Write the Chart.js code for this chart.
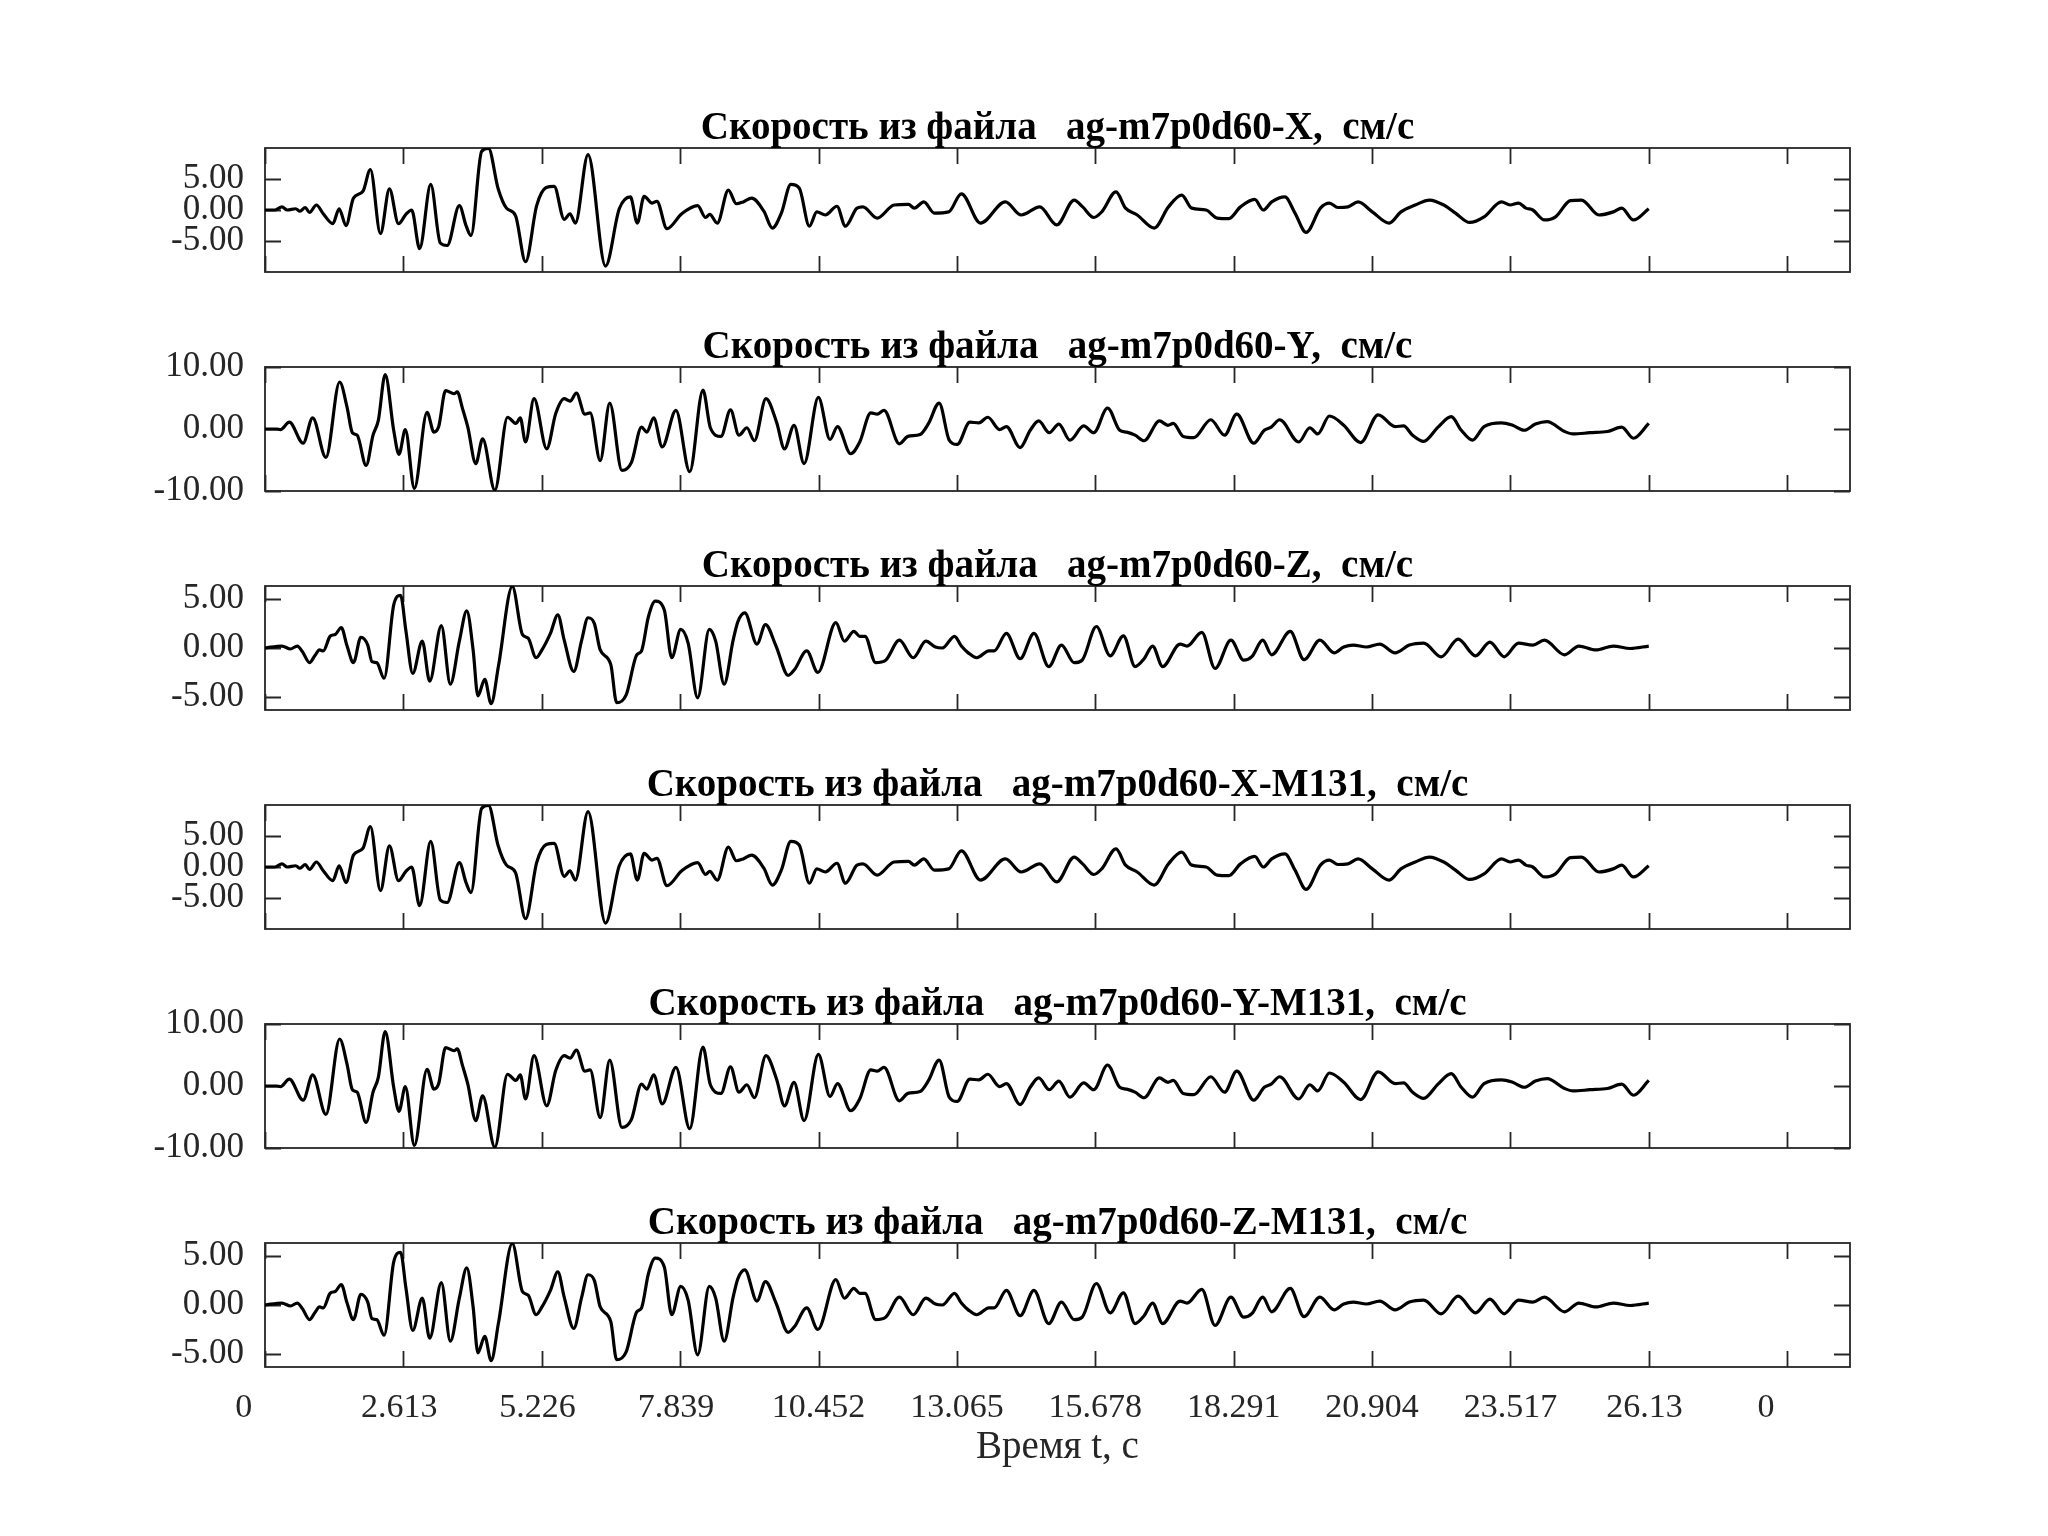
<!DOCTYPE html>
<html lang="ru">
<head>
<meta charset="utf-8">
<title>Скорость из файла</title>
<script src="https://cdn.jsdelivr.net/npm/chart.js@4.4.1/dist/chart.umd.min.js"></script>
<style>
  html, body { margin: 0; padding: 0; background: #fff; }
  #wrap { position: relative; width: 2048px; height: 1536px; }
  #wrap canvas { position: absolute; left: 0; }
</style>
</head>
<body>
<div id="wrap"></div>
<script>
// Шкала времени (общая для всех графиков)
const xTickVals = [0, 2.613, 5.226, 7.839, 10.452, 13.065, 15.678, 18.291, 20.904, 23.517, 26.13, 28.743];
const xTickLabels = ['0', '2.613', '5.226', '7.839', '10.452', '13.065', '15.678', '18.291', '20.904', '23.517', '26.13', '0'];
const xMax = 29.93;

// Компонента X, см/с
const tX = [0, 0.19, 0.32, 0.42, 0.58, 0.66, 0.76, 0.84, 0.97, 1.10, 1.28, 1.40, 1.53, 1.67, 1.85, 1.99, 2.18, 2.35, 2.52, 2.66,
  2.77, 2.92, 3.13, 3.31, 3.44, 3.67, 3.80, 3.89, 4.09, 4.22, 4.40, 4.56, 4.73, 4.92, 5.13, 5.31, 5.46, 5.65, 5.76, 5.86,
  6.10, 6.43, 6.69, 6.90, 7.03, 7.16, 7.31, 7.40, 7.59, 7.87, 8.17, 8.32, 8.40, 8.54, 8.75, 8.90, 9.03, 9.19, 9.42, 9.58,
  9.75, 9.93, 10.09, 10.28, 10.42, 10.58, 10.80, 10.96, 11.18, 11.29, 11.56, 11.88, 12.15, 12.26, 12.44, 12.64, 12.91, 13.15, 13.51, 13.98,
  14.28, 14.63, 14.95, 15.28, 15.44, 15.65, 15.80, 16.07, 16.25, 16.47, 16.79, 17.06, 17.31, 17.50, 17.77, 17.98, 18.20, 18.42, 18.69, 18.85,
  19.01, 19.26, 19.45, 19.66, 19.93, 20.10, 20.26, 20.45, 20.64, 20.91, 21.23, 21.45, 21.72, 21.99, 22.26, 22.48, 22.75, 23.02, 23.35, 23.51,
  23.67, 23.81, 23.94, 24.16, 24.37, 24.65, 24.86, 25.19, 25.46, 25.62, 25.84, 26.13];
const vX = [0, 0, 0.5, 0, 0.2, -0.2, 0.4, -0.4, 0.8, -0.6, -2.2, 0.2, -2.5, 1.9, 3.0, 6.5, -3.8, 3.4, -2.2, -0.7,
  0.0, -6.2, 4.1, -5.3, -5.7, 0.7, -2.6, -4.1, 9.4, 9.9, 3.5, 0.3, -0.9, -8.3, 0.7, 3.6, 3.8, -1.5, -0.6, -2.1,
  8.9, -9.0, 0.2, 2.1, -2.1, 2.2, 1.1, 1.4, -3.0, -0.6, 0.7, -1.2, -0.7, -2.1, 3.2, 1.0, 1.3, 1.9, -0.2, -2.9,
  -0.5, 4.1, 3.5, -2.6, -0.3, -0.8, 0.6, -2.6, 0.3, 0.5, -1.3, 0.8, 0.9, 0.3, 1.3, -0.5, -0.3, 2.6, -2.1, 1.3,
  -0.8, 0.5, -2.4, 1.6, 0.5, -1.2, -0.3, 2.9, 0.3, -0.8, -2.9, 0.5, 2.4, 0.3, 0, -1.3, -1.4, 0.5, 1.7, 0,
  1.3, 2.1, -0.5, -3.6, 0.3, 1.1, 0.4, 0.5, 1.3, -0.3, -2.1, -0.3, 0.8, 1.6, 0.8, -0.5, -2.0, -1.1, 1.3, 0.8,
  1.1, 0.3, 0, -1.6, -1.1, 1.5, 1.6, -0.8, -0.3, 0.3, -1.6, 0.2];

// Компонента Y, см/с
const tY = [0, 0.22, 0.29, 0.46, 0.72, 0.90, 1.15, 1.41, 1.55, 1.65, 1.74, 1.91, 2.04, 2.14, 2.27, 2.43, 2.53, 2.65, 2.82, 3.06,
  3.19, 3.28, 3.41, 3.57, 3.63, 3.73, 3.83, 3.98, 4.11, 4.34, 4.58, 4.74, 4.82, 4.92, 5.08, 5.32, 5.49, 5.65, 5.76, 5.88,
  6.04, 6.14, 6.33, 6.51, 6.74, 6.92, 7.11, 7.21, 7.34, 7.50, 7.76, 8.02, 8.27, 8.41, 8.61, 8.79, 8.95, 9.10, 9.24, 9.46,
  9.66, 9.81, 9.99, 10.18, 10.45, 10.67, 10.81, 11.06, 11.23, 11.44, 11.56, 11.69, 11.98, 12.14, 12.37, 12.53, 12.73, 12.92, 13.07, 13.31,
  13.48, 13.65, 13.87, 14.00, 14.26, 14.45, 14.61, 14.81, 14.99, 15.20, 15.46, 15.65, 15.91, 16.14, 16.27, 16.43, 16.60, 16.89, 17.05, 17.15,
  17.34, 17.54, 17.86, 18.12, 18.35, 18.67, 18.87, 19.00, 19.16, 19.52, 19.73, 19.88, 20.10, 20.37, 20.69, 21.02, 21.34, 21.50, 21.67, 21.88,
  22.15, 22.40, 22.59, 22.80, 23.02, 23.35, 23.56, 23.78, 23.99, 24.21, 24.54, 24.70, 25.02, 25.35, 25.62, 25.84, 26.13];
const vY = [0, 0, -0.1, 1.1, -2.3, 1.8, -4.6, 7.6, 3.5, -0.6, -1.0, -5.9, -1.0, 1.4, 8.8, -0.2, -4.1, -0.1, -9.6, 2.7,
  -0.5, 0.4, 6.2, 5.7, 6.0, 3.3, 0.3, -5.6, -1.6, -9.9, 1.9, 0.9, 1.8, -2.1, 4.9, -3.2, 2.5, 4.9, 4.5, 5.8,
  2.4, 2.6, -5.1, 4.2, -6.7, -5.4, 0.3, -0.5, 1.8, -2.9, 3.0, -6.9, 6.3, 0.2, -1.2, 3.1, -1.0, 0.2, -1.9, 4.9,
  1.1, -3.2, 0.6, -5.6, 5.1, -1.7, 0.4, -4.0, -2.1, 2.6, 2.4, 3.0, -2.4, -1.2, -0.9, 0.9, 4.2, -1.8, -2.5, 1.1,
  1.0, 1.9, -0.1, 0.4, -3.0, -0.2, 1.3, -0.6, 0.8, -1.8, 0.5, -0.6, 3.4, -0.2, -0.5, -1.0, -1.9, 1.3, 0.6, 0.9,
  -1.2, -1.4, 1.5, -1.0, 2.4, -2.3, -0.2, 0.3, 1.5, -2.1, 0.2, -0.8, 2.1, 0.6, -2.2, 2.3, 0.4, 0.5, -1.0, -2.0,
  0.3, 2.0, -0.2, -1.8, 0.4, 1.0, 0.6, -0.2, 0.8, 1.2, -0.4, -0.8, -0.6, -0.4, 0.3, -1.5, 0.9];

// Компонента Z, см/с
const tZ = [0, 0.32, 0.48, 0.61, 0.71, 0.84, 0.94, 1.03, 1.10, 1.23, 1.33, 1.44, 1.55, 1.67, 1.81, 1.94, 2.02, 2.11, 2.25, 2.43,
  2.56, 2.66, 2.79, 2.97, 3.11, 3.33, 3.50, 3.67, 3.81, 3.93, 4.02, 4.15, 4.27, 4.41, 4.67, 4.86, 4.97, 5.12, 5.23, 5.39,
  5.53, 5.65, 5.83, 5.98, 6.10, 6.22, 6.33, 6.53, 6.64, 6.82, 7.02, 7.11, 7.24, 7.37, 7.54, 7.68, 7.85, 7.99, 8.17, 8.39,
  8.51, 8.67, 8.84, 8.93, 9.06, 9.29, 9.45, 9.65, 9.88, 10.00, 10.23, 10.44, 10.78, 10.94, 11.12, 11.23, 11.33, 11.53, 11.72, 11.98,
  12.24, 12.48, 12.66, 12.79, 13.02, 13.15, 13.28, 13.44, 13.67, 13.77, 14.00, 14.26, 14.52, 14.80, 15.04, 15.28, 15.43, 15.70, 15.96, 16.21,
  16.43, 16.60, 16.76, 16.95, 17.28, 17.41, 17.69, 17.94, 18.24, 18.48, 18.64, 18.84, 19.01, 19.36, 19.62, 19.92, 20.19, 20.37, 20.55, 20.80,
  21.05, 21.34, 21.61, 21.88, 22.21, 22.53, 22.86, 23.13, 23.40, 23.67, 23.94, 24.16, 24.54, 24.81, 25.13, 25.46, 25.78, 26.13];
const vZ = [0, 0.2, -0.1, 0.2, -0.4, -1.5, -0.8, -0.2, -0.3, 1.2, 1.4, 2.1, 0.2, -1.5, 1.1, 0.3, -1.4, -1.5, -3.1, 4.4,
  5.4, 1.8, -2.6, 0.7, -3.4, 2.3, -3.7, 0.7, 3.8, -0.2, -4.9, -3.2, -5.7, -1.8, 6.3, 1.4, 1.0, -1.0, -0.2, 1.5,
  3.4, 0.8, -2.4, 0.8, 3.1, 2.5, -0.2, -1.7, -5.6, -4.8, -0.7, -0.3, 3.2, 4.8, 3.9, -1.0, 1.9, 0.5, -5.1, 1.9,
  0.7, -3.7, 0.8, 2.7, 3.6, 0.4, 2.4, 0.2, -2.8, -2.2, -0.3, -2.5, 2.6, 0.7, 1.7, 1.2, 1.2, -1.5, -1.25, 0.8,
  -1.0, 0.7, 0.1, 0, 1.2, 0.2, -0.5, -1.0, -0.3, -0.3, 1.5, -1.1, 1.5, -1.9, 0.3, -1.5, -1.25, 2.2, -0.8, 1.25,
  -1.9, -1.1, 0.2, -1.9, 0.4, 0.2, 1.6, -2.1, 0.8, -1.25, -0.85, 0.8, -0.7, 1.7, -1.2, 0.8, -0.5, 0.1, 0.3, 0.1,
  0.4, -0.5, 0.3, 0.5, -0.9, 0.9, -0.8, 0.6, -0.9, 0.5, 0.3, 0.8, -0.7, 0.2, -0.2, 0.2, -0.05, 0.2];

// Файлы M131 дают те же записи
const tXM = tX, vXM = vX, tYM = tY, vYM = vY, tZM = tZ, vZM = vZ;

const titles = [
  'Скорость из файла   ag-m7p0d60-X,  см/с',
  'Скорость из файла   ag-m7p0d60-Y,  см/с',
  'Скорость из файла   ag-m7p0d60-Z,  см/с',
  'Скорость из файла   ag-m7p0d60-X-M131,  см/с',
  'Скорость из файла   ag-m7p0d60-Y-M131,  см/с',
  'Скорость из файла   ag-m7p0d60-Z-M131,  см/с'
];
const yTicksXZ = [-5, 0, 5];
const yTicksY = [-10, 0, 10];
const yLimX = 9.95, yLimY = 10.03, yLimZ = 6.35;

const panels = [
  { t: tX, v: vX, lim: yLimX, ticks: yTicksXZ },
  { t: tY, v: vY, lim: yLimY, ticks: yTicksY },
  { t: tZ, v: vZ, lim: yLimZ, ticks: yTicksXZ },
  { t: tXM, v: vXM, lim: yLimX, ticks: yTicksXZ },
  { t: tYM, v: vYM, lim: yLimY, ticks: yTicksY },
  { t: tZM, v: vZM, lim: yLimZ, ticks: yTicksXZ }
];

// Геометрия
const FONT = '"Liberation Serif", "Times New Roman", serif';
const AXIS_COLOR = '#262626';
const panelTops = [148, 367, 586, 805, 1024, 1243];
const PANEL_H = 124;
const PAD_TOP = 60;
const LEFT = 265, RIGHT = 1850;
const TICK_LEN = 16;

// Рамка, внутренние засечки и заголовок графика
const frame = {
  id: 'frame',
  beforeDatasetsDraw(chart, args, opts) {
    const { ctx, chartArea: a, scales: { x, y } } = chart;
    ctx.save();
    ctx.strokeStyle = AXIS_COLOR;
    ctx.lineWidth = 1.8;
    ctx.beginPath();
    xTickVals.forEach(v => {
      const px = Math.round(x.getPixelForValue(v)) + 0.5;
      ctx.moveTo(px, a.top); ctx.lineTo(px, a.top + TICK_LEN);
      ctx.moveTo(px, a.bottom); ctx.lineTo(px, a.bottom - TICK_LEN);
    });
    y.ticks.forEach(t => {
      const py = Math.round(y.getPixelForValue(t.value)) + 0.5;
      ctx.moveTo(a.left, py); ctx.lineTo(a.left + TICK_LEN, py);
      ctx.moveTo(a.right, py); ctx.lineTo(a.right - TICK_LEN, py);
    });
    ctx.stroke();
    ctx.strokeRect(a.left, a.top, a.right - a.left, a.bottom - a.top);
    ctx.fillStyle = '#000';
    ctx.font = 'bold 39px ' + FONT;
    ctx.textAlign = 'center';
    ctx.textBaseline = 'alphabetic';
    ctx.fillText(opts.text, (a.left + a.right) / 2, a.top - 9);
    ctx.restore();
  }
};

const wrap = document.getElementById('wrap');

panels.forEach((p, i) => {
  const last = i === panels.length - 1;
  const bottomExtra = last ? 150 : 24;
  const cv = document.createElement('canvas');
  cv.width = 2048;
  cv.height = PAD_TOP + PANEL_H + bottomExtra;
  cv.style.top = (panelTops[i] - PAD_TOP) + 'px';
  wrap.appendChild(cv);

  new Chart(cv.getContext('2d'), {
    type: 'line',
    data: {
      datasets: [{
        data: p.t.map((t, k) => ({ x: t, y: p.v[k] })),
        borderColor: '#000',
        borderWidth: 3.2,
        pointRadius: 0,
        fill: false,
        cubicInterpolationMode: 'monotone'
      }]
    },
    options: {
      responsive: false,
      animation: false,
      devicePixelRatio: 1,
      layout: { padding: { top: PAD_TOP, right: 2048 - RIGHT, bottom: last ? 0 : bottomExtra, left: 0 } },
      plugins: {
        legend: { display: false },
        tooltip: { enabled: false },
        frame: { text: titles[i] }
      },
      scales: {
        x: {
          type: 'linear',
          min: 0,
          max: xMax,
          display: last,
          afterBuildTicks: s => { s.ticks = xTickVals.map(v => ({ value: v })); },
          afterFit: s => {
            s.height = last ? bottomExtra : 0;
            s.paddingLeft = 0; s.paddingRight = 0;
          },
          grid: { display: false },
          border: { display: false },
          ticks: {
            autoSkip: false,
            maxRotation: 0,
            padding: 13,
            color: AXIS_COLOR,
            font: { family: FONT, size: 34 },
            // подписи дополнены пробелами до 6 символов, как в исходнике
            callback: (v, k) => xTickLabels[k].padEnd(6, ' ')
          },
          title: {
            display: true,
            text: 'Время t, с',
            color: AXIS_COLOR,
            font: { family: FONT, size: 39 },
            padding: { top: 0, bottom: 46 }
          }
        },
        y: {
          min: -p.lim,
          max: p.lim,
          afterBuildTicks: s => { s.ticks = p.ticks.map(v => ({ value: v })); },
          afterFit: s => {
            s.width = LEFT;
            s.paddingTop = 0; s.paddingBottom = 0;
          },
          grid: { display: false },
          border: { display: false },
          ticks: {
            padding: 13,
            color: AXIS_COLOR,
            font: { family: FONT, size: 35 },
            callback: v => v.toFixed(2)
          }
        }
      }
    },
    plugins: [frame]
  });
});
</script>
</body>
</html>
